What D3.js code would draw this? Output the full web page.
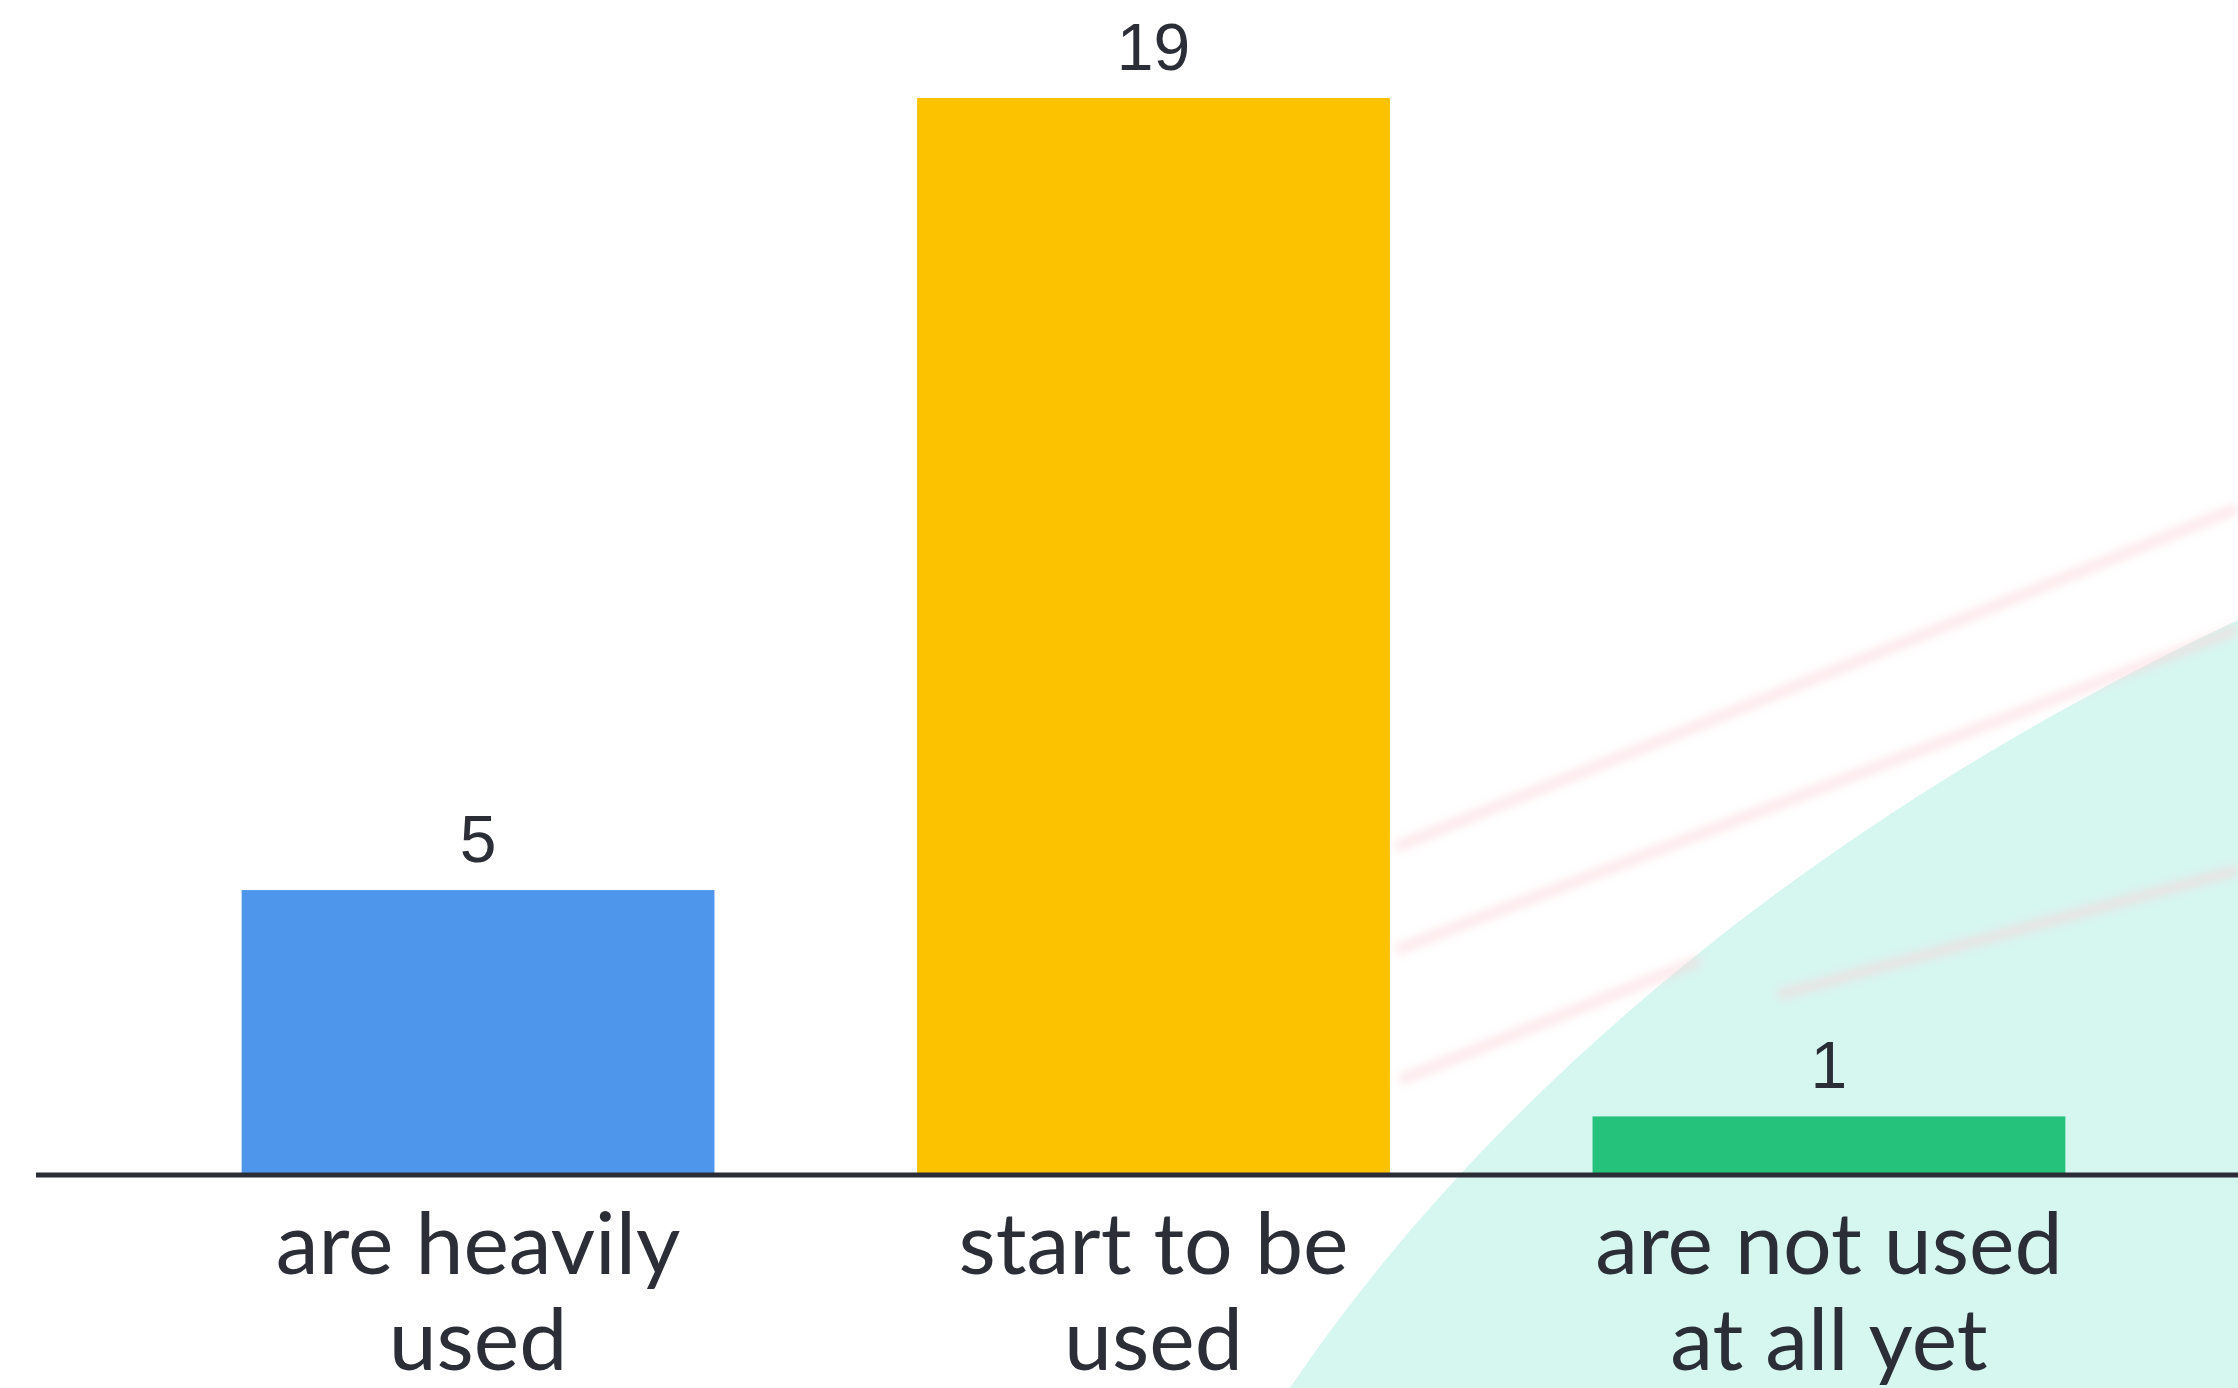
<!DOCTYPE html>
<html>
<head>
<meta charset="utf-8">
<script src="https://cdn.jsdelivr.net/npm/d3@7"></script>
<style>
  body { margin: 0; background: #fff; }
</style>
</head>
<body>
<div id="chart"></div>
<script>
// data
const categories = [["are heavily", "used"], ["start to be", "used"], ["are not used", "at all yet"]];
const values = [5, 19, 1];
const colors = ["#4d96ec", "#fcc200", "#24c27a"];

const width = 2238,
      height = 1388,
      baseline = 1173;

const svg = d3.select("#chart")
  .append("svg")
    .attr("width", width)
    .attr("height", height);

// soft blur for the background streaks
svg.append("defs")
  .append("filter")
    .attr("id", "soft")
    .attr("x", "-10%").attr("y", "-50%")
    .attr("width", "120%").attr("height", "200%")
  .append("feGaussianBlur")
    .attr("stdDeviation", 5);

// faint background decoration (mint wedge + pink streaks)
svg.append("path")
  .attr("d", "M1290,1388 C1450,1150 1750,850 2238,620 L2238,1388 Z")
  .attr("fill", "#d6f6f0");

const streaks = [
  [1396, 847, 2238, 508],
  [1396, 950, 2238, 629],
  [1778, 995, 2238, 870],
  [1400, 1080, 1700, 960]
];
svg.selectAll("line.streak")
  .data(streaks)
  .enter()
  .append("line")
    .attr("class", "streak")
    .attr("x1", d => d[0]).attr("y1", d => d[1])
    .attr("x2", d => d[2]).attr("y2", d => d[3])
    .attr("stroke", "#fbd3d8")
    .attr("stroke-width", 10)
    .attr("opacity", 0.55)
    .attr("filter", "url(#soft)")

const x = d3.scaleBand()
  .domain(d3.range(values.length))
  .range([39, 2268])
  .paddingInner(0.3)
  .paddingOuter(0.3);

const y = d3.scaleLinear()
  .domain([0, 19])
  .range([baseline, 98]);

// bars
svg.selectAll("rect.bar")
  .data(values)
  .enter()
  .append("rect")
    .attr("class", "bar")
    .attr("x", (d, i) => x(i))
    .attr("y", d => y(d))
    .attr("width", x.bandwidth())
    .attr("height", d => y(0) - y(d))
    .style("fill", (d, i) => colors[i])

// baseline
svg.append("line")
  .attr("x1", 36)
  .attr("x2", width)
  .attr("y1", baseline + 2)
  .attr("y2", baseline + 2)
  .attr("stroke", "#2b2d36")
  .attr("stroke-width", 5)

// value labels
svg.selectAll("text.value")
  .data(values)
  .enter()
  .append("text")
    .attr("class", "value")
    .attr("x", (d, i) => x(i) + x.bandwidth() / 2)
    .attr("y", d => y(d) - 28)
    .attr("text-anchor", "middle")
    .style("font-family", "'Liberation Sans', Arial, sans-serif")
    .style("font-size", "66px")
    .style("fill", "#2b2e37")
    .text(d => d)

// category labels
const cat = svg.selectAll("text.cat")
  .data(categories)
  .enter()
  .append("text")
    .attr("class", "cat")
    .attr("text-anchor", "middle")
    .style("font-family", "Lato, sans-serif")
    .style("font-size", "86px")
    .style("fill", "#2b2e37");

cat.selectAll("tspan")
  .data((d, i) => d.map(t => ({t: t, i: i})))
  .enter()
  .append("tspan")
    .attr("x", d => x(d.i) + x.bandwidth() / 2)
    .attr("y", (d, j) => 1274 + j * 96)
    .text(d => d.t)
</script>
</body>
</html>
